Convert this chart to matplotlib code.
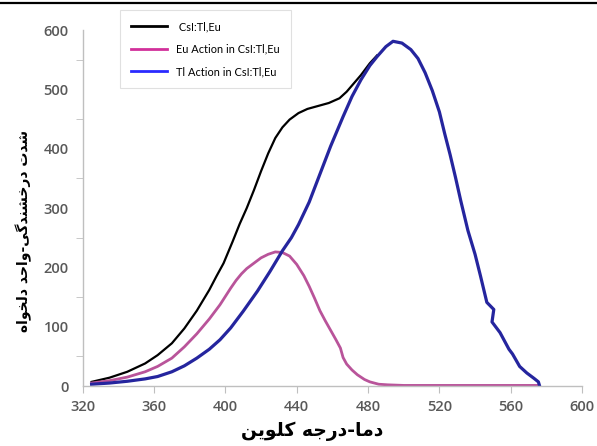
import matplotlib
matplotlib.use("Agg")
import matplotlib.pyplot as plt
from matplotlib.lines import Line2D
from matplotlib.ticker import MultipleLocator

# values
t_total = [325, 335, 345, 355, 362, 370, 377, 384, 391, 395, 399, 404, 408, 412,
           416, 420, 424, 428, 432, 436, 441, 446, 452, 458, 464, 468, 472,
           476, 481, 485]
v_total = [7, 14, 24, 38, 52, 72, 97, 127, 162, 185, 207, 243, 273, 300,
           330, 362, 392, 418, 436, 449, 460, 467, 472, 477, 485, 496, 510,
           524, 544, 557]

t_eu = [325, 335, 345, 355, 362, 370, 377, 384, 391, 397, 400, 403, 406, 409,
        412, 416, 420, 424, 428, 432, 436, 440, 444, 447, 450, 453, 456, 459,
        462, 464.5, 466, 468, 471, 474, 478, 481, 486, 491, 500, 575]
v_eu = [5, 9, 15, 24, 33, 47, 66, 88, 113, 137, 151, 165, 178, 189,
        198, 207, 216, 222, 226, 225, 219, 205, 186, 168, 148, 127, 110, 94,
        78, 64, 48, 37, 27, 19, 11, 7, 3, 2, 1, 1]

t_tl = [325, 335, 345, 355, 362, 370, 377, 384, 391, 397, 403, 410, 418, 425,
        432, 437, 441, 447, 453, 459, 466, 471, 476, 481, 485, 490, 494, 499,
        504, 508, 512, 516, 520, 523, 526, 529, 532, 536, 540, 543, 546.6,
        550.5, 549.5, 554, 559, 561, 565, 569, 573, 575.5, 576]
v_tl = [3, 5, 8, 12, 16, 24, 34, 47, 62, 78, 98, 126, 160, 193,
        228, 250, 272, 310, 357, 404, 454, 488, 516, 540, 555, 572, 581, 578,
        567, 552, 528, 498, 462, 425, 390, 352, 312, 262, 222, 186, 141,
        129, 108, 90, 62, 54, 33, 22, 13, 7, 2]

labels = [" CsI:Tl,Eu", "Eu Action in CsI:Tl,Eu", "Tl Action in CsI:Tl,Eu"]
x_ticks = list(range(320, 601, 40))
y_ticks = list(range(0, 601, 100))

xlabel_fa = "دما-درجه کلوین"
ylabel_fa = "شدت درخشندگی-واحد دلخواه"

# matplotlib has no arabic shaping, so join the letters by hand
FORMS = {
    "ا": ("\ufe8d", "\ufe8e", None, None),
    "ب": ("\ufe8f", "\ufe90", "\ufe91", "\ufe92"),
    "ت": ("\ufe95", "\ufe96", "\ufe97", "\ufe98"),
    "ج": ("\ufe9d", "\ufe9e", "\ufe9f", "\ufea0"),
    "ح": ("\ufea1", "\ufea2", "\ufea3", "\ufea4"),
    "خ": ("\ufea5", "\ufea6", "\ufea7", "\ufea8"),
    "د": ("\ufea9", "\ufeaa", None, None),
    "ر": ("\ufead", "\ufeae", None, None),
    "ش": ("\ufeb5", "\ufeb6", "\ufeb7", "\ufeb8"),
    "ل": ("\ufedd", "\ufede", "\ufedf", "\ufee0"),
    "م": ("\ufee1", "\ufee2", "\ufee3", "\ufee4"),
    "ن": ("\ufee5", "\ufee6", "\ufee7", "\ufee8"),
    "ه": ("\ufee9", "\ufeea", "\ufeeb", "\ufeec"),
    "و": ("\ufeed", "\ufeee", None, None),
    "ک": ("\ufb8e", "\ufb8f", "\ufb90", "\ufb91"),
    "گ": ("\ufb92", "\ufb93", "\ufb94", "\ufb95"),
    "ی": ("\ufbfc", "\ufbfd", "\ufbfe", "\ufbff"),
}


def shape(text):
    out = []
    for i, ch in enumerate(text):
        if ch not in FORMS:
            out.append(ch)
            continue
        prev = text[i - 1] if i > 0 else ""
        nxt = text[i + 1] if i + 1 < len(text) else ""
        join_prev = prev in FORMS and FORMS[prev][2] is not None
        join_next = nxt in FORMS and FORMS[ch][2] is not None
        iso, fin, ini, med = FORMS[ch]
        if join_prev and join_next:
            out.append(med)
        elif join_prev:
            out.append(fin)
        elif join_next:
            out.append(ini)
        else:
            out.append(iso)
    return "".join(out)[::-1]


plt.rcParams["font.family"] = ["Open Sans", "DejaVu Sans"]

fig = plt.figure(figsize=(5.97, 4.46), dpi=100)
ax = fig.add_axes([0.1385, 0.1345, 0.8365, 0.7982])

ax.plot(t_total, v_total, color="black", lw=1.6, label=labels[0])
ax.plot(t_eu, v_eu, color="#b9549a", lw=2.0, label=labels[1])
ax.plot(t_tl, v_tl, color="#25259e", lw=2.3, label=labels[2])

ax.set_xlim(320, 600)
ax.set_ylim(0, 600)
ax.set_xticks(x_ticks)
ax.set_yticks(y_ticks)
ax.yaxis.set_minor_locator(MultipleLocator(50))

for s in ["top", "right"]:
    ax.spines[s].set_visible(False)
for s in ["left", "bottom"]:
    ax.spines[s].set_color("#bfbfbf")
    ax.spines[s].set_linewidth(1.0)

ax.tick_params(axis="x", direction="out", length=5, color="#bfbfbf",
               labelsize=10.5, labelcolor="#595959", pad=5)
ax.tick_params(axis="y", which="major", length=0, labelsize=10.5,
               labelcolor="#595959", pad=10)
ax.tick_params(axis="y", which="minor", direction="out", length=5,
               color="#bfbfbf")
for lab in ax.get_xticklabels() + ax.get_yticklabels():
    lab.set_fontweight("semibold")

ax.set_xlabel(shape(xlabel_fa), fontsize=13.5, fontweight="bold",
              family=["DejaVu Sans"])
ax.xaxis.set_label_coords(0.46, -0.1)
ax.set_ylabel(shape(ylabel_fa), fontsize=10, fontweight="bold",
              family=["DejaVu Sans"])
ax.yaxis.set_label_coords(-0.102, 0.435)

handles = [Line2D([], [], color="black", lw=2),
           Line2D([], [], color="#d2309a", lw=2),
           Line2D([], [], color="#2a2aff", lw=2)]
leg = ax.legend(handles, labels, loc="upper left", bbox_to_anchor=(0.075, 1.056),
                prop={"family": "Lato", "size": 7.9}, frameon=True,
                fancybox=False, handlelength=3.3, labelspacing=1.05,
                borderpad=1.0, handletextpad=0.8, borderaxespad=0)
leg.get_frame().set_edgecolor("#d9d9d9")
leg.get_frame().set_linewidth(0.8)

fig.add_artist(Line2D([0, 1], [1 - 2.5 / 446, 1 - 2.5 / 446],
                      transform=fig.transFigure, color="black", lw=1.6))

fig.savefig("out.png", dpi=100)
